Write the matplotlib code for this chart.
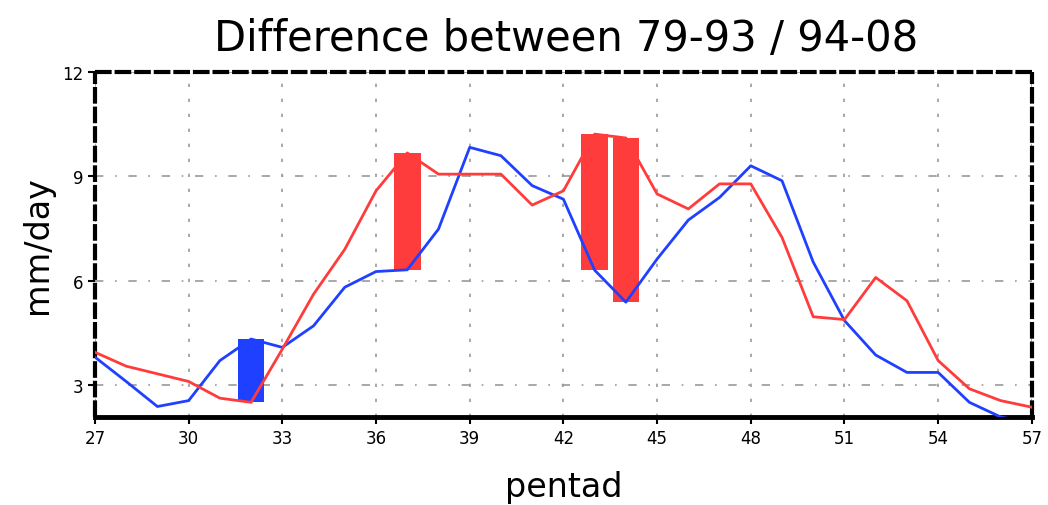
import numpy as np
import matplotlib
matplotlib.use("Agg")
from matplotlib import pyplot as plt

plt.rcParams['font.family'] = ['DejaVu Sans']

# pentad climatology, 1979-1993 (blue) vs 1994-2008 (red)
pentad = np.arange(27, 58)
rain_7993 = [3.80, 3.10, 2.38, 2.55, 3.70, 4.32, 4.08, 4.70, 5.81, 6.26,
             6.31, 7.48, 9.83, 9.59, 8.73, 8.34, 6.30, 5.38, 6.62, 7.74,
             8.39, 9.30, 8.87, 6.53, 4.85, 3.86, 3.36, 3.36, 2.50, 2.08,
             1.90]
rain_9408 = [3.94, 3.54, 3.32, 3.10, 2.62, 2.50, 4.03, 5.61, 6.90, 8.58,
             9.67, 9.06, 9.06, 9.06, 8.17, 8.58, 10.21, 10.10, 8.49, 8.06,
             8.78, 8.78, 7.24, 4.96, 4.88, 6.09, 5.42, 3.70, 2.89, 2.55,
             2.36]
# pentads where the difference is significant
signif = [32, 37, 43, 44]

xticks = np.arange(27, 58, 3)
yticks = [3, 6, 9, 12]

RED = '#ff3c3c'
BLUE = '#2040ff'

fig = plt.figure(figsize=(10.48, 5.06), dpi=100)
ax = fig.add_axes([0.0906, 0.174, 0.894, 0.682])

a = np.array(rain_7993)
b = np.array(rain_9408)
for p in signif:
    i = p - pentad[0]
    lo, hi = min(a[i], b[i]), max(a[i], b[i])
    col = RED if b[i] > a[i] else BLUE
    ax.bar(p, hi - lo, bottom=lo, width=0.85, color=col, zorder=2)

ax.plot(pentad, rain_7993, color=BLUE, lw=2, zorder=3)
ax.plot(pentad, rain_9408, color=RED, lw=2, zorder=3)

ax.set_xlim(27, 57)
ax.set_ylim(2.08, 12)
ax.set_xticks(xticks)
ax.set_yticks(yticks)
ax.tick_params(axis='both', labelsize=12, length=5, width=1.5, direction='out')
ax.tick_params(axis='x', pad=4)

ax.grid(True, axis='x', color='0.6', linestyle=(0, (2, 7)), lw=1.2)
ax.grid(True, axis='y', color='0.6', linestyle=(0, (5, 7, 1, 7)), lw=1.2)
ax.set_axisbelow(True)

for side in ['top', 'left', 'right']:
    ax.spines[side].set_linewidth(3)
    ax.spines[side].set_linestyle((0, (4, 0.7)))
    ax.spines[side].set_capstyle('butt')
ax.spines['bottom'].set_linewidth(3.5)

ax.set_xlabel('pentad', fontsize=24, labelpad=16)
ax.set_ylabel('mm/day', fontsize=24, labelpad=6)
fig.text(0.54, 0.922, 'Difference between 79-93 / 94-08', fontsize=30,
         ha='center', va='center')

fig.savefig('out.png', dpi=100, facecolor='white')
